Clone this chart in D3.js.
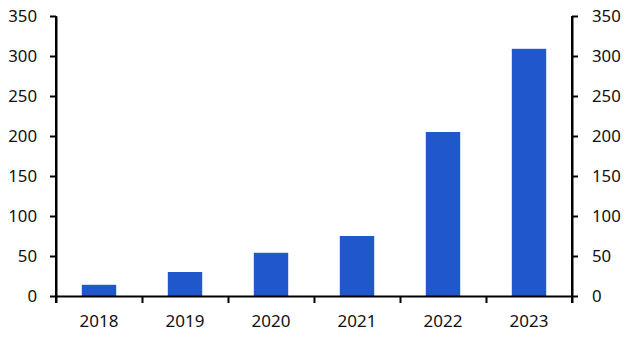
<!DOCTYPE html>
<html>
<head>
<meta charset="utf-8">
<script src="https://cdn.jsdelivr.net/npm/d3@7"></script>
<style>
  body { margin: 0; background: #fff; }
  text { font-family: "Noto Sans", "Open Sans", sans-serif; fill: #111; }
</style>
</head>
<body>
<div id="chart"></div>
<script>
const years = ["2018", "2019", "2020", "2021", "2022", "2023"];
const values = [14, 30, 54, 75, 205, 309];
const yTicks = [0, 50, 100, 150, 200, 250, 300, 350];

const width = 628, height = 341;
const margin = { top: 16, right: 56, bottom: 45, left: 56 };

const svg = d3.select("#chart").append("svg")
    .attr("width", width).attr("height", height);

const x = d3.scaleBand()
    .domain(years)
    .range([margin.left, width - margin.right])
    .paddingInner(0.6)
    .paddingOuter(0.3);

const y = d3.scaleLinear()
    .domain([0, 350])
    .range([height - margin.bottom, margin.top]);

// bars
svg.selectAll("rect.bar")
    .data(values)
    .join("rect")
    .attr("class", "bar")
    .attr("x", (d, i) => x(years[i]))
    .attr("y", d => y(d))
    .attr("width", x.bandwidth())
    .attr("height", d => y(0) - y(d))
    .attr("fill", "#2058cc");

// left axis
const left = svg.append("g")
    .attr("transform", `translate(${margin.left},0)`)
    .call(d3.axisLeft(y).tickValues(yTicks).tickSize(6).tickPadding(13).tickSizeOuter(0));

// right axis
const right = svg.append("g")
    .attr("transform", `translate(${width - margin.right},0)`)
    .call(d3.axisRight(y).tickValues(yTicks).tickSize(6).tickPadding(14).tickSizeOuter(0));

// bottom axis: ticks at band boundaries
const xEdge = d3.scaleLinear().domain([0, years.length]).range([margin.left, width - margin.right]);
const bottom = svg.append("g")
    .attr("transform", `translate(0,${y(0)})`)
    .call(d3.axisBottom(xEdge).ticks(years.length).tickFormat("").tickSize(7).tickSizeOuter(0));

svg.append("g")
    .selectAll("text")
    .data(years)
    .join("text")
    .attr("x", d => x(d) + x.bandwidth() / 2)
    .attr("y", y(0) + 31)
    .attr("text-anchor", "middle")
    .style("font-size", "17px")
    .text(d => d);

[left, right, bottom].forEach(g => {
    g.selectAll(".domain").attr("stroke", "#000").attr("stroke-width", 2);
    g.selectAll(".tick line").attr("stroke", "#000").attr("stroke-width", 2);
    g.selectAll(".tick text").style("font-size", "16.8px").attr("fill", "#111");
});

// extend vertical axes slightly below the baseline
[margin.left, width - margin.right].forEach(px => {
    svg.append("line")
        .attr("x1", px).attr("x2", px)
        .attr("y1", y(350)).attr("y2", y(0) + 7)
        .attr("stroke", "#000").attr("stroke-width", 2);
});
</script>
</body>
</html>
